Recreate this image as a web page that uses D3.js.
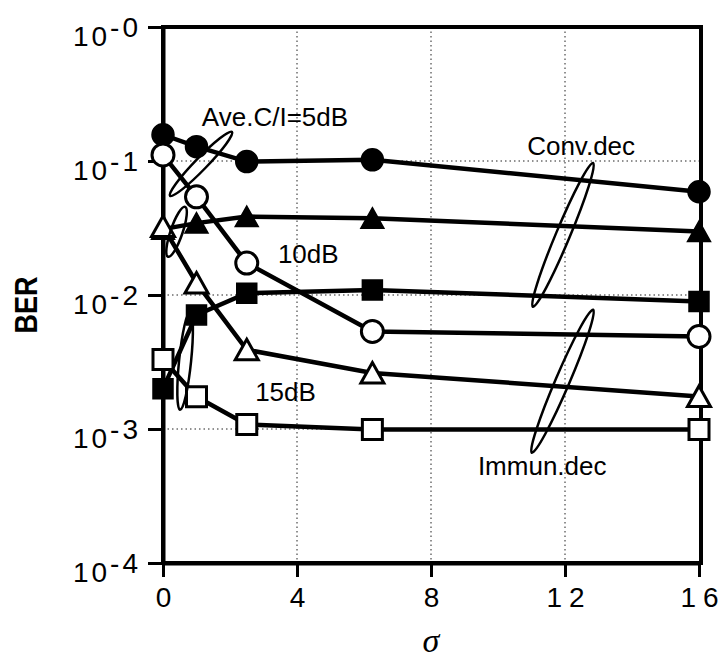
<!DOCTYPE html>
<html>
<head>
<meta charset="utf-8">
<script src="https://cdn.jsdelivr.net/npm/d3@7/dist/d3.min.js"></script>
<style>
body{ margin:0; background:#fff; }
svg{ display:block; }
</style>
</head>
<body>
<div id="chart"></div>
<script>
// sigma values on the x axis
var sigma = [0, 1, 2.5, 6.25, 16];

// BER, conventional decoding (filled markers)
var conv5  = [0.157, 0.128, 0.099, 0.102, 0.059];
var conv10 = [0.031, 0.0344, 0.0385, 0.0374, 0.0298];
var conv15 = [0.002, 0.0071, 0.0103, 0.0109, 0.00895];

// BER, immunity decoding (open markers)
var immun5  = [0.111, 0.054, 0.0173, 0.00534, 0.0049];
var immun10 = [0.0324, 0.0123, 0.0039, 0.00262, 0.00175];
var immun15 = [0.0033, 0.00174, 0.00108, 0.00099, 0.00099];

var xTicks = [0, 4, 8, 12, 16];
var yTicks = [1, 1e-1, 1e-2, 1e-3, 1e-4];
var yTickExp = ["-0", "-1", "-2", "-3", "-4"];

// annotation texts, anchored in data units (sigma, BER)
var noteText  = ["Ave.C/I=5dB", "10dB", "15dB", "Conv.dec", "Immun.dec"];
var noteSigma = [1.16, 3.43, 2.75, 10.87, 9.40];
var noteBer   = [0.183, 0.0174, 0.00163, 0.111, 0.000456];

// the thin rings grouping the curves: two end points each
var ringFrom = [[0.21, 0.055], [0.15, 0.0193], [0.51, 0.00139], [11.04, 0.00817], [11.01, 0.000665]];
var ringTo   = [[2.06, 0.165], [0.66, 0.0455], [0.81, 0.0075], [12.84, 0.0968], [12.84, 0.00776]];
var ringHalf = [6, 6, 6, 7, 7];

var series = [
    { values: conv5,   shape: "circle",   filled: true },
    { values: conv10,  shape: "triangle", filled: true },
    { values: conv15,  shape: "square",   filled: true },
    { values: immun5,  shape: "circle",   filled: false },
    { values: immun10, shape: "triangle", filled: false },
    { values: immun15, shape: "square",   filled: false }
];

function draw(){
    var width = 725;
    var height = 660;
    var plotLeft = 163, plotRight = 699, plotTop = 27, plotBottom = 563;

    var x = d3.scaleLinear().domain([0, 16]).range([plotLeft, plotRight]);
    var y = d3.scaleLog().domain([1e-4, 1]).range([plotBottom, plotTop]);

    var svg = d3.select("#chart")
        .append("svg")
        .attr("width", width)
        .attr("height", height);

    svg.append("rect")
        .attr("width", width)
        .attr("height", height)
        .attr("fill", "#fff");

    //Dotted grid
    var grid = svg.append("g").attr("class", "grid");
    grid.selectAll("line.gx")
        .data(xTicks.slice(1, -1))
        .enter().append("line")
            .attr("x1", function(d){ return x(d); })
            .attr("x2", function(d){ return x(d); })
            .attr("y1", plotTop)
            .attr("y2", plotBottom)
            .attr("stroke", "#222")
            .attr("stroke-width", 1)
            .attr("stroke-dasharray", "1.5,3");
    grid.selectAll("line.gy")
        .data(yTicks.slice(1, -1))
        .enter().append("line")
            .attr("x1", plotLeft)
            .attr("x2", plotRight)
            .attr("y1", function(d){ return y(d); })
            .attr("y2", function(d){ return y(d); })
            .attr("stroke", "#222")
            .attr("stroke-width", 1)
            .attr("stroke-dasharray", "1.5,3");

    //Frame
    svg.append("rect")
        .attr("x", plotLeft)
        .attr("y", plotTop)
        .attr("width", plotRight - plotLeft + 2)
        .attr("height", plotBottom - plotTop)
        .attr("fill", "none")
        .attr("stroke", "#000")
        .attr("stroke-width", 4);

    //Bottom axis
    var xAxis = svg.append("g")
        .attr("transform", "translate(0," + plotBottom + ")")
        .call(d3.axisBottom(x).tickValues(xTicks).tickSize(14).tickSizeOuter(0).tickPadding(10)
            .tickFormat(function(d){ return d; }));
    xAxis.select(".domain").attr("stroke-width", 4);
    xAxis.selectAll(".tick line").attr("stroke-width", 3);
    xAxis.selectAll(".tick text")
        .attr("font-family", "Liberation Sans, Arial, sans-serif")
        .attr("font-size", 28)
        .attr("fill", "#000")
        .attr("letter-spacing", function(d){ return d >= 10 ? 7 : 0; })
        .attr("dx", function(d){ return d >= 10 ? 3.5 : 0; });

    //Left axis, labels are written by hand for the superscripts
    var yAxis = svg.append("g")
        .attr("transform", "translate(" + plotLeft + ",0)")
        .call(d3.axisLeft(y).tickValues(yTicks).tickSize(15).tickSizeOuter(0).tickFormat(""));
    yAxis.select(".domain").attr("stroke-width", 4);
    yAxis.selectAll(".tick line").attr("stroke-width", 3);

    var yLabels = svg.append("g")
        .attr("font-family", "Liberation Sans, Arial, sans-serif")
        .attr("font-size", 28)
        .attr("fill", "#000");
    yTicks.forEach(function(t, i){
        var txt = yLabels.append("text")
            .attr("x", 141)
            .attr("y", y(t) + 19)
            .attr("text-anchor", "end")
            .attr("letter-spacing", 3);
        txt.append("tspan").text("10");
        txt.append("tspan").attr("dy", -9).text(yTickExp[i]);
    });

    //Axis titles
    svg.append("text")
        .attr("transform", "translate(37,305) rotate(-90)")
        .attr("text-anchor", "middle")
        .attr("font-family", "Liberation Sans, Arial, sans-serif")
        .attr("font-weight", "bold")
        .attr("font-size", 32)
        .attr("textLength", 57)
        .attr("lengthAdjust", "spacingAndGlyphs")
        .text("BER");

    svg.append("text")
        .attr("x", x(8))
        .attr("y", 652)
        .attr("text-anchor", "middle")
        .attr("font-family", "Liberation Serif, serif")
        .attr("font-style", "italic")
        .attr("font-size", 34)
        .text("σ");

    //Curves
    var line = d3.line()
        .x(function(d){ return x(d[0]); })
        .y(function(d){ return y(d[1]); });

    series.forEach(function(s){
        svg.append("path")
            .datum(sigma.map(function(v, i){ return [v, s.values[i]]; }))
            .attr("d", line)
            .attr("fill", "none")
            .attr("stroke", "#000")
            .attr("stroke-width", 4.5);
    });

    //Markers, bbox centred on the point
    function markerPath( shape ){
        if( shape === "circle" ){
            return "M-11,0A11,11 0 1,0 11,0A11,11 0 1,0 -11,0Z";
        }else if( shape === "square" ){
            return "M-10,-10H10V10H-10Z";
        }
        return "M0,-10.5L11.5,10L-11.5,10Z";
    }

    series.forEach(function(s){
        svg.append("g").selectAll("path")
            .data(sigma.map(function(v, i){ return [v, s.values[i]]; }))
            .enter().append("path")
                .attr("transform", function(d){ return "translate(" + x(d[0]) + "," + y(d[1]) + ")"; })
                .attr("d", markerPath(s.shape))
                .attr("fill", s.filled ? "#000" : "#fff")
                .attr("stroke", "#000")
                .attr("stroke-width", s.filled ? 1.5 : 3)
                .attr("stroke-linejoin", "miter");
    });

    //Rings grouping the curves
    ringFrom.forEach(function(a, i){
        var b = ringTo[i];
        var x1 = x(a[0]), y1 = y(a[1]), x2 = x(b[0]), y2 = y(b[1]);
        var len = Math.sqrt((x2 - x1) * (x2 - x1) + (y2 - y1) * (y2 - y1));
        var ang = Math.atan2(y2 - y1, x2 - x1) * 180 / Math.PI;
        svg.append("ellipse")
            .attr("transform", "translate(" + ((x1 + x2) / 2) + "," + ((y1 + y2) / 2) + ") rotate(" + ang + ")")
            .attr("rx", len / 2)
            .attr("ry", ringHalf[i])
            .attr("fill", "none")
            .attr("stroke", "#000")
            .attr("stroke-width", 2.5);
    });

    //Annotation texts
    svg.append("g").selectAll("text")
        .data(noteText)
        .enter().append("text")
            .attr("x", function(d, i){ return x(noteSigma[i]); })
            .attr("y", function(d, i){ return y(noteBer[i]); })
            .attr("font-family", "Liberation Sans, Arial, sans-serif")
            .attr("font-size", 26)
            .attr("fill", "#000")
            .text(function(d){ return d; });
}

draw();
</script>
</body>
</html>
